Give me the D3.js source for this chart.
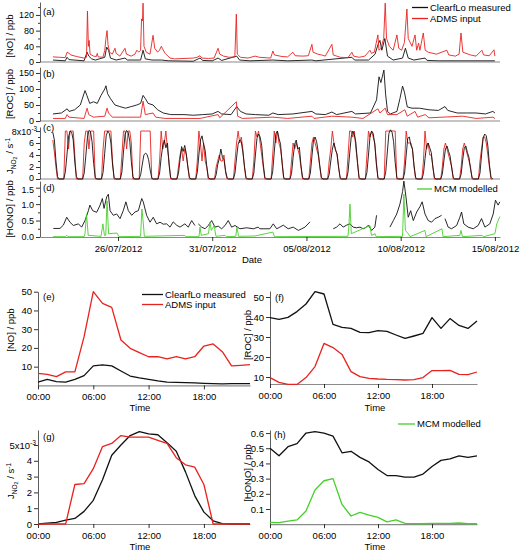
<!DOCTYPE html>
<html><head><meta charset="utf-8">
<script src="https://cdn.jsdelivr.net/npm/d3@7"></script>
<style>
body{margin:0;background:#fff;}
svg{font-family:"Liberation Sans",Arial,Helvetica,sans-serif;}
</style></head><body>
<svg id="c" width="520" height="551"></svg>
<script>
// ---------- DATA ----------
// Time series: [days since 22/07/2012 00:00, value]
const NO_MEAS = [[0.55,5],[1.2,3],[1.3,12],[1.4,6],[2.2,3],[2.36,25],[2.45,15],[2.6,8],[2.8,5],[3.3,12],[3.4,38],[3.5,30],[3.6,10],[3.9,5],[4.37,10],[4.5,5],[5.2,5],[5.33,30],[5.45,8],[5.8,5],[6.3,5],[6.7,3],[8.0,2],[8.35,10],[8.5,4],[9.0,3],[9.31,10],[9.5,4],[10.3,15],[10.45,5],[11,3],[12.22,5],[13,3],[14.29,5],[14.5,3],[16.41,12],[16.55,5],[17.3,5],[17.64,20],[17.8,45],[17.9,55],[18.0,30],[18.16,60],[18.3,15],[18.6,5],[19.1,10],[19.25,35],[19.4,10],[19.7,5],[20.29,10],[20.4,4],[21,3],[24,3]];
const NO_ADMS = [[0.55,13],[0.9,12],[1.2,11],[1.3,25],[1.4,22],[1.5,18],[1.8,14],[2.2,10],[2.33,12],[2.38,130],[2.43,40],[2.47,55],[2.52,20],[2.7,15],[2.85,14],[2.9,22],[2.95,13],[3.2,12],[3.3,30],[3.36,60],[3.42,80],[3.47,45],[3.55,25],[3.7,20],[3.84,35],[3.9,22],[4.1,15],[4.37,35],[4.45,20],[4.7,15],[4.9,20],[5.0,30],[5.1,25],[5.2,30],[5.25,110],[5.3,105],[5.33,150],[5.38,40],[5.5,25],[5.7,20],[5.86,68],[5.95,35],[6.1,25],[6.2,30],[6.3,40],[6.35,35],[6.5,22],[6.76,10],[7.0,8],[7.5,9],[8.0,10],[8.2,12],[8.35,16],[8.45,10],[8.8,9],[9.1,10],[9.31,35],[9.4,20],[9.6,15],[9.9,12],[10.2,13],[10.28,122],[10.33,20],[10.5,12],[10.9,10],[11.27,15],[11.5,12],[12.1,10],[12.22,28],[12.3,18],[12.7,14],[13.0,13],[13.28,25],[13.4,16],[13.8,15],[14.1,16],[14.29,45],[14.35,25],[14.6,20],[14.8,18],[15.0,15],[15.35,45],[15.42,18],[15.8,12],[16.2,11],[16.41,25],[16.5,15],[16.8,12],[17.1,15],[17.37,30],[17.45,22],[17.6,25],[17.79,69],[17.85,30],[17.95,35],[18.1,60],[18.18,150],[18.25,60],[18.4,40],[18.6,30],[18.8,69],[18.9,35],[19.05,30],[19.2,50],[19.33,135],[19.4,60],[19.6,40],[19.76,69],[19.85,30],[19.95,48],[20.02,30],[20.2,74],[20.3,30],[20.46,25],[20.9,20],[21.45,30],[21.55,18],[21.9,15],[22.1,20],[22.2,74],[22.3,25],[22.7,18],[23.0,15],[23.31,30],[23.4,18],[23.7,16],[23.95,31],[24.0,15]];
const ROC_MEAS = [[0.55,22],[1.0,25],[1.3,38],[1.4,30],[1.7,35],[2.0,50],[2.25,95],[2.35,80],[2.5,55],[2.7,60],[2.9,55],[3.1,80],[3.3,100],[3.36,110],[3.45,85],[3.6,70],[3.84,50],[4.1,45],[4.4,40],[4.7,45],[5.0,50],[5.2,55],[5.33,80],[5.45,70],[5.6,55],[5.86,50],[6.1,35],[6.4,25],[6.8,20],[7.5,20],[8.0,18],[8.5,20],[9.0,22],[9.31,30],[9.5,22],[10.0,20],[10.3,45],[10.5,30],[10.8,22],[11.3,20],[12.0,18],[12.22,25],[12.5,20],[13.28,22],[14.29,30],[14.5,22],[15.0,20],[15.35,28],[15.6,20],[16.41,30],[16.6,22],[17.4,25],[17.72,66],[17.85,138],[17.95,120],[18.11,159],[18.2,84],[18.3,30],[18.45,22],[18.8,30],[18.96,70],[19.1,109],[19.2,90],[19.35,44],[19.6,40],[20.0,40],[20.5,35],[21.0,33],[21.35,45],[21.5,33],[22.0,25],[22.5,25],[23.0,25],[23.5,22],[23.89,30],[24.0,25]];
const ROC_ADMS = [[0.55,8],[1.2,8],[1.3,20],[1.4,12],[2.2,8],[2.36,40],[2.45,20],[2.7,12],[3.3,15],[3.42,40],[3.5,25],[3.7,12],[4.4,12],[5.2,12],[5.33,62],[5.45,20],[5.86,25],[6.0,12],[6.5,8],[8.35,8],[9.31,20],[9.4,10],[10.28,60],[10.35,15],[10.6,8],[12.22,12],[13.0,8],[14.29,15],[14.4,8],[15.35,15],[16.41,12],[17.0,8],[17.79,38],[17.9,25],[18.18,40],[18.3,20],[18.8,20],[19.22,35],[19.35,15],[19.76,30],[19.9,12],[20.3,20],[20.5,10],[22.3,15],[23.0,8],[23.9,12],[24.0,8]];
// J(NO2) in 1e-3 s^-1, one row per day (22/07 .. 14/08), at these hours
const J_HOURS = [3,5,7,9,11,13,15,17,19,21];
const J_MEAS = [
 [null,null,null,null,null,7.8,6.5,3.0,0.4,0],
 [0,1.2,4.0,7.0,8.0,7.8,6.5,2.8,0.4,0],
 [0,1.0,3.8,6.8,8.1,7.9,6.2,2.6,0.3,0],
 [0,1.1,4.2,7.2,8.0,7.6,6.0,2.5,0.3,0],
 [0,1.2,4.5,7.4,8.1,7.7,6.3,2.9,0.4,0],
 [0,0.8,2.5,4.0,4.3,4.1,3.2,1.5,0.2,0],
 [0,1.0,3.6,5.5,6.5,5.2,6.0,2.4,0.3,0],
 [0,0.9,3.2,5.4,4.6,5.6,4.2,2.0,0.3,0],
 [0,1.1,4.0,6.5,7.2,5.8,4.8,2.2,0.3,0],
 [0,0.7,2.4,3.4,5.0,3.6,3.2,1.4,0.2,0],
 [0,1.0,3.5,5.8,6.5,6.2,4.5,2.2,0.3,0],
 [0,1.0,4.0,6.8,7.5,7.0,5.6,2.5,0.3,0],
 [0,1.2,4.5,7.5,8.0,6.8,5.8,2.6,0.3,0],
 [0,0.9,3.6,5.8,6.5,5.0,5.3,2.3,0.3,0],
 [0,1.0,3.8,6.5,7.0,6.2,4.5,2.2,0.3,0],
 [0,0.8,3.0,5.0,6.0,4.8,4.2,1.8,0.2,0],
 [0,1.2,4.2,7.0,8.0,7.4,6.0,2.6,0.3,0],
 [0,1.1,4.0,7.2,8.0,7.6,5.8,2.5,0.3,0],
 [0,1.2,4.5,7.6,8.2,7.8,6.2,2.8,0.3,0],
 [0,1.0,4.0,6.8,7.0,5.6,5.0,2.3,0.3,0],
 [0,0.9,3.4,5.6,6.0,5.2,4.4,2.0,0.2,0],
 [0,0.8,3.0,5.0,5.5,4.6,3.8,1.8,0.2,0],
 [0,0.8,3.2,5.2,5.5,4.4,3.6,1.6,0.2,0],
 [0,1.0,4.0,6.8,7.5,7.2,5.5,2.4,0.3,0]
];
const J_ADMS = [
 [null,null,null,null,null,6.5,4.5,2.0,0,0],
 [0,8,8,5,8,8,8,4,0,0],
 [0,6,8,8,5,8,8,8,0,0],
 [0,5,8,8,8,8,8,3,0,0],
 [0,4,8,8,5,8,8,6,0,0],
 [0,8,8,8,8,8,8,8,0,0],
 [0,3,8,5,6,8,5,3,0,0],
 [0,2,4,5,3,5,4,2,0,0],
 [0,3,8,6,3,6,3,2,0,0],
 [0,2,3,4,3,3,4,1,0,0],
 [0,3,6,8,6,7,5,2,0,0],
 [0,3,8,7,8,6,4,2,0,0],
 [0,4,8,6,8,6,5,3,0,0],
 [0,3,6,5,6,5,4,2,0,0],
 [0,3,6,7,6,5,4,2,0,0],
 [0,3,5,8,6,5,4,2,0,0],
 [0,4,8,8,7,8,5,3,0,0],
 [0,4,8,7,8,7,6,3,0,0],
 [0,8,8,8,8,8,8,8,0,0],
 [0,3,8,6,6,6,5,2,0,0],
 [0,3,8,5,6,4,4,2,0,0],
 [0,2,5,6,5,4,3,2,0,0],
 [0,2,5,6,5,4,3,2,0,0],
 [0,3,5,7,7,6,4,2,0,0]
];
const HONO_MEAS = [[0.57,0.26],[0.92,0.26],[1.10,0.36],[1.28,0.6],[1.45,0.45],[1.63,0.35],[1.90,0.4],[2.07,0.3],[2.25,0.5],[2.43,0.8],[2.51,0.97],[2.66,0.8],[2.87,0.75],[3.05,0.97],[3.17,1.17],[3.26,0.87],[3.40,1.22],[3.49,1.3],[3.58,0.8],[3.75,0.66],[3.93,0.7],[4.11,0.56],[4.28,0.8],[4.42,1.07],[4.55,0.8],[4.73,0.66],[4.90,0.76],[5.08,0.8],[5.26,1.17],[5.34,1.07],[5.52,0.66],[5.70,0.45],[5.87,0.6],[6.05,0.4],[6.23,0.45],[6.40,0.39],[6.58,0.4],[6.76,0.3],[6.93,0.46],[7.11,0.36],[7.29,0.3],[7.55,0.4],[7.73,0.3],[7.91,0.5],[8.08,0.35],[8.17,null],[8.26,0.4],[8.44,0.3],[8.62,0.25],[8.79,0.35],[8.97,0.5],[9.15,0.3],[9.32,0.33],[9.50,0.25],[9.68,0.35],[9.85,0.5],[10.03,0.3],[10.21,0.35],[10.47,0.25],[10.83,0.28],[11.18,0.25],[11.44,0.3],[11.53,0.25],[12.06,0.25],[12.24,0.4],[12.42,0.25],[12.59,0.3],[12.77,0.36],[13.03,0.25],[13.30,0.3],[13.57,0.2],[13.75,0.25],[13.92,0.3],[14.19,0.46],[14.8,null],[15.42,0.25],[15.60,0.3],[15.78,0.4],[15.95,0.3],[16.13,0.36],[16.31,0.4],[16.48,0.3],[16.66,0.28],[16.84,0.3],[17.01,0.25],[17.19,0.3],[17.28,0.36],[17.46,0.2],[17.63,0.3],[17.72,0.66],[18.0,null],[18.43,0.3],[18.61,0.5],[18.79,0.7],[18.96,1.0],[19.10,1.38],[19.17,1.7],[19.28,1.22],[19.40,0.6],[19.53,0.8],[19.67,0.5],[19.85,0.76],[20.02,0.92],[20.14,1.07],[20.29,0.7],[20.46,0.5],[20.64,0.45],[20.82,0.56],[20.99,0.6],[21.17,0.66],[21.26,null],[21.35,0.56],[21.52,0.3],[21.70,0.25],[21.97,0.35],[22.14,0.6],[22.23,0.76],[22.35,0.4],[22.58,0.3],[22.85,0.25],[23.11,0.35],[23.29,0.56],[23.47,0.3],[23.73,0.4],[23.91,0.7],[24.03,1.12],[24.17,0.97],[24.26,1.07]];
const HONO_MCM = [[0.55,0.01],[1.2,0.01],[1.28,0.05],[1.35,0.01],[2.2,0.01],[2.25,0.1],[2.33,0.7],[2.42,0.05],[3.1,0.02],[3.2,0.4],[3.28,0.05],[3.35,0.05],[3.42,1.1],[3.5,0.1],[3.95,0.12],[4.05,0.01],[5.2,0.02],[5.27,0.85],[5.33,0.5],[5.4,0.02],[7.55,0.05],[7.6,0.01],[8.3,0.01],[8.35,0.3],[8.42,0.05],[8.8,0.1],[8.88,0.45],[8.95,0.2],[9.1,0.35],[9.2,0.02],[9.68,0.05],[9.75,0.01],[10.25,0.02],[10.31,0.3],[10.4,0.02],[11.27,0.03],[12.22,0.15],[12.3,0.01],[16.2,0.02],[16.25,0.3],[16.31,1.0],[16.38,0.1],[17.37,0.35],[17.45,0.05],[17.64,0.1],[17.7,0.01],[19.1,0.02],[19.17,1.3],[19.25,0.2],[19.4,0.1],[19.5,0.01],[20.29,0.2],[20.35,0.01],[21.19,0.25],[21.25,0.01],[22.14,0.05],[22.2,0.2],[22.28,0.01],[23.31,0.05],[23.4,0.01],[24.0,0.1],[24.1,0.4],[24.26,0.62]];
const DATE_TICKS = ["2012-07-26","2012-07-31","2012-08-05","2012-08-10","2012-08-15"];

// Diurnal means, hour of day
const HOURS = [0,1,2,3,4,5,6,7,8,9,10,11,12,13,14,15,16,17,18,19,20,21,22,23];
const HOUR_TICKS = [0,6,12,18];
const D_NO_MEAS = [1.8,3.2,2.0,1.8,3.2,5.2,10.4,10.9,10.4,7.7,5.0,4.0,3.2,2.4,1.8,1.6,1.5,1.3,1.1,0.9,0.8,0.9,0.9,0.9];
const D_NO_ADMS = [6.4,5.9,4.7,7.2,7.2,26,50,43.8,41.6,24.2,19.8,17.5,15.3,15.3,14.1,15.3,14.1,15.3,21,22.1,18,10.4,10.7,11.1];
const D_ROC_MEAS = [39.7,38.8,39.8,42.7,46.5,52.7,51.5,36.3,34.8,34.3,32.3,32.2,33.2,32.8,31,29.3,30.5,31.8,39.7,34.3,39.2,35.8,34.3,38];
const D_ROC_ADMS = [9.7,7.3,6.3,6.3,9.7,15.2,26.8,24.7,21.3,12.7,10.2,9.3,9,8.8,8.7,8.5,8.7,9.7,13.2,13.2,13.3,11.3,11.2,12.5];
const D_J_MEAS = [0,0.05,0.1,0.25,0.35,0.8,1.5,2.8,4.35,5.0,5.6,5.85,5.7,5.65,5.15,4.6,3.3,1.8,0.75,0.2,0.02,0,0,0];
const D_J_ADMS = [0,0,0,0,2.5,2.55,3.5,4.9,5.1,5.6,5.5,5.5,5.5,5.3,5.1,4.2,3.75,3.6,2.5,0,0,0,0,0];
const D_HONO_MEAS = [0.50,0.45,0.51,0.53,0.60,0.61,0.60,0.58,0.47,0.48,0.44,0.41,0.36,0.32,0.32,0.31,0.31,0.33,0.38,0.42,0.43,0.45,0.44,0.45];
const D_HONO_MCM = [0.012,0.01,0.02,0.028,0.087,0.225,0.286,0.30,0.13,0.054,0.078,0.06,0.045,0.015,0.028,0.006,0.004,0.003,0.005,0.006,0.006,0.008,0.004,0.003];

// ---------- DRAWING ----------
const RED = '#e8231f', GREEN = '#46cf2a', BLACK = '#111', AXC = '#8a8a8a';
const FONT = '"Liberation Sans", Arial, Helvetica, sans-serif';
const svg = d3.select('#c');
const DAY0 = Date.UTC(2012, 6, 22);
const toDate = t => new Date(DAY0 + t * 864e5);

const xTop = d3.scaleUtc().domain([toDate(-0.138), toDate(24.27)]).range([40, 500]);

function styleAxis(g, fs) {
  g.attr('font-family', FONT).attr('font-size', fs);
  g.selectAll('text').attr('fill', '#000');
  g.selectAll('.tick line').attr('stroke', '#000').attr('stroke-width', 0.8);
}
function leftAxis(x, scale, ticks, fmt, minor, fs) {
  const g = svg.append('g').attr('transform', `translate(${x},0)`)
    .call(d3.axisLeft(scale).tickValues(ticks).tickFormat(fmt).tickSize(4).tickSizeOuter(0).tickPadding(2));
  styleAxis(g, fs);
  g.select('.domain').attr('stroke', '#333').attr('stroke-width', 0.8);
  if (minor) {
    const m = svg.append('g').attr('transform', `translate(${x},0)`)
      .call(d3.axisLeft(scale).tickValues(minor).tickFormat('').tickSize(2).tickSizeOuter(0));
    m.select('.domain').remove();
    m.selectAll('line').attr('stroke', '#000').attr('stroke-width', 0.8);
  }
  return g;
}
function baseLine(y, x0, x1) {
  svg.append('line').attr('x1', x0).attr('x2', x1).attr('y1', y).attr('y2', y)
    .attr('stroke', AXC).attr('stroke-width', 1.1);
}
function drawPath(data, x, y, color, w) {
  const line = d3.line().defined(d => d[1] != null).x(d => x(d[0])).y(d => y(d[1]));
  svg.append('path').datum(data).attr('d', line).attr('fill', 'none')
    .attr('stroke', color).attr('stroke-width', w).attr('stroke-linejoin', 'round');
}
function text(x, y, s, opts = {}) {
  return svg.append('text').attr('x', x).attr('y', y).attr('font-family', FONT)
    .attr('font-size', opts.fs || 9.5).attr('text-anchor', opts.anchor || 'start').attr('fill', '#000').text(s);
}
function vlabel(x, y, parts, fs) {
  const t = svg.append('text').attr('transform', `translate(${x},${y}) rotate(-90)`)
    .attr('font-family', FONT).attr('font-size', fs).attr('text-anchor', 'middle');
  parts.forEach(p => {
    const ts = t.append('tspan').text(p.t);
    if (p.dy) ts.attr('dy', p.dy);
    if (p.fs) ts.attr('font-size', p.fs);
  });
}
function jLabel(x, y, fs) {
  vlabel(x, y, [{t: 'J'}, {t: 'NO', dy: 2.5, fs: fs * 0.7}, {t: '2', dy: 1.5, fs: fs * 0.55},
    {t: ' / s', dy: -4, fs: fs}, {t: '-1', dy: -3.5, fs: fs * 0.7}], fs);
}
function sciTick(x, y, mant, fs) {
  const t = svg.append('text').attr('x', x).attr('y', y).attr('dy', '0.32em').attr('text-anchor', 'end')
    .attr('font-family', FONT).attr('font-size', fs);
  t.append('tspan').text(mant + 'x10');
  t.append('tspan').attr('dy', -4).attr('font-size', fs * 0.7).text('-3');
}
const tsTop = d => [toDate(d[0]), d[1]];
const TFS = 9; // top tick font size

// ----- (a) NO -----
const yA = d3.scaleLinear().domain([0, 153]).range([62, 2]);
baseLine(62, 40, 500);
leftAxis(40, yA, [0, 40, 80, 120], d3.format('d'), [20, 60, 100, 140], TFS);
drawPath(NO_MEAS.map(tsTop), xTop, yA, BLACK, 0.9);
drawPath(NO_ADMS.map(tsTop), xTop, yA, RED, 0.9);
text(43, 15, '(a)');
vlabel(13, 36, [{t: '[NO] / ppb'}], 9.5);

// ----- (b) ROC -----
const yB = d3.scaleLinear().domain([0, 168]).range([121, 67.2]);
baseLine(121, 40, 500);
leftAxis(40, yB, [0, 50, 100, 150], d3.format('d'), [25, 75, 125], TFS);
drawPath(ROC_MEAS.map(tsTop), xTop, yB, BLACK, 0.9);
drawPath(ROC_ADMS.map(tsTop), xTop, yB, RED, 0.9);
text(43, 77, '(b)');
vlabel(13, 94, [{t: '[ROC] / ppb'}], 9.5);

// ----- (c) J -----
const yC = d3.scaleLinear().domain([0, 8.67]).range([179, 127]);
baseLine(179, 40, 500);
const gC = leftAxis(40, yC, [0, 2, 4, 6, 8], v => v === 8 ? '' : d3.format('d')(v), [1, 3, 5, 7], TFS);
gC.selectAll('.tick text').filter(d => d === 0).attr('dy', '0.15em');
sciTick(37, yC(8) + 1, '8', TFS);
const jSeries = rows => {
  const out = [];
  rows.forEach((row, d) => row.forEach((v, i) => { if (v != null) out.push([toDate(d + J_HOURS[i] / 24), v]); }));
  return out;
};
drawPath(jSeries(J_ADMS), xTop, yC, RED, 0.9);
drawPath(jSeries(J_MEAS), xTop, yC, BLACK, 0.9);
text(43, 131, '(c)');
jLabel(13, 156, 9.5);

// ----- (d) HONO -----
const yD = d3.scaleLinear().domain([0, 1.7]).range([237, 181.1]);
const gD = leftAxis(40, yD, [0, 0.5, 1.0, 1.5], d3.format('.1f'), [0.25, 0.75, 1.25], TFS);
gD.selectAll('.tick text').filter(d => d === 1.5).attr('dy', '0.55em');
const gx = svg.append('g').attr('transform', 'translate(0,237)')
  .call(d3.axisBottom(xTop).tickValues(DATE_TICKS.map(s => new Date(s + 'T00:00:00Z')))
    .tickFormat(d3.utcFormat('%d/%m/%Y')).tickSize(4).tickSizeOuter(0).tickPadding(4));
styleAxis(gx, 9.5);
gx.select('.domain').attr('stroke', AXC).attr('stroke-width', 1.1);
drawPath(HONO_MEAS.map(tsTop), xTop, yD, BLACK, 0.9);
drawPath(HONO_MCM.map(tsTop), xTop, yD, GREEN, 0.9);
text(43, 191, '(d)');
vlabel(13, 209, [{t: '[HONO] / ppb'}], 9.5);
text(252, 263, 'Date', {anchor: 'middle'});

// legends top
function legend(x, y, color, label, len) {
  svg.append('line').attr('x1', x).attr('x2', x + len).attr('y1', y).attr('y2', y)
    .attr('stroke', color).attr('stroke-width', 1.3);
  text(x + len + 2, y + 3.3, label);
}
legend(412, 7.5, BLACK, 'ClearfLo measured', 16);
legend(412, 18.5, RED, 'ADMS input', 16);
legend(417, 189, GREEN, 'MCM modelled', 15);

// ----- bottom panels -----
const xL = d3.scaleLinear().domain([0, 23]).range([38, 250]);
const xR = d3.scaleLinear().domain([0, 23]).range([270, 477]);
const hfmt = h => String(h).padStart(2, '0') + ':00';
function bottomAxis(x, y) {
  const g = svg.append('g').attr('transform', `translate(0,${y})`)
    .call(d3.axisBottom(x).tickValues(HOUR_TICKS).tickFormat(hfmt).tickSize(4).tickSizeOuter(0).tickPadding(4));
  styleAxis(g, 9.5);
  g.select('.domain').attr('stroke', AXC).attr('stroke-width', 1.2);
}
const hs = arr => arr.map((v, i) => [HOURS[i], v]);

// (e)
const yE = d3.scaleLinear().domain([0, 50]).range([385.4, 291.7]);
bottomAxis(xL, 385.4);
leftAxis(38, yE, [10, 20, 30, 40, 50], d3.format('d'), null, 9.5);
drawPath(hs(D_NO_MEAS), xL, yE, BLACK, 1.3);
drawPath(hs(D_NO_ADMS), xL, yE, RED, 1.3);
text(43, 300, '(e)');
vlabel(14, 330, [{t: '[NO] / ppb'}], 9.5);
text(140, 411, 'Time', {anchor: 'middle'});
legend(142, 294.5, BLACK, 'ClearfLo measured', 21);
legend(142, 304.5, RED, 'ADMS input', 21);

// (f)
const yF = d3.scaleLinear().domain([6.5, 53]).range([384, 291]);
bottomAxis(xR, 384);
leftAxis(270, yF, [10, 20, 30, 40, 50], d3.format('d'), null, 9.5);
drawPath(hs(D_ROC_MEAS), xR, yF, BLACK, 1.3);
drawPath(hs(D_ROC_ADMS), xR, yF, RED, 1.3);
text(275, 301, '(f)');
vlabel(251, 335, [{t: '[ROC] / ppb'}], 9.5);
text(375, 411, 'Time', {anchor: 'middle'});

// (g)
const yG = d3.scaleLinear().domain([0, 5.95]).range([524, 430]);
bottomAxis(xL, 524);
leftAxis(38, yG, [0, 1, 2, 3, 4, 5], v => v === 5 ? '' : d3.format('d')(v), null, 9.5);
sciTick(36, yG(5) + 1, '5', 9.5);
drawPath(hs(D_J_MEAS), xL, yG, BLACK, 1.3);
drawPath(hs(D_J_ADMS), xL, yG, RED, 1.3);
text(43, 440, '(g)');
jLabel(14, 481, 9.5);
text(140, 550, 'Time', {anchor: 'middle'});

// (h)
const yH = d3.scaleLinear().domain([0, 0.62]).range([524.2, 430]);
bottomAxis(xR, 524.2);
leftAxis(270, yH, [0.1, 0.2, 0.3, 0.4, 0.5, 0.6], d3.format('.1f'), null, 9.5);
drawPath(hs(D_HONO_MEAS), xR, yH, BLACK, 1.3);
drawPath(hs(D_HONO_MCM), xR, yH, GREEN, 1.3);
text(274, 438, '(h)');
vlabel(251, 473, [{t: '[HONO] / ppb'}], 9.5);
text(375, 550, 'Time', {anchor: 'middle'});
legend(398, 424, GREEN, 'MCM modelled', 17);
</script></body></html>
